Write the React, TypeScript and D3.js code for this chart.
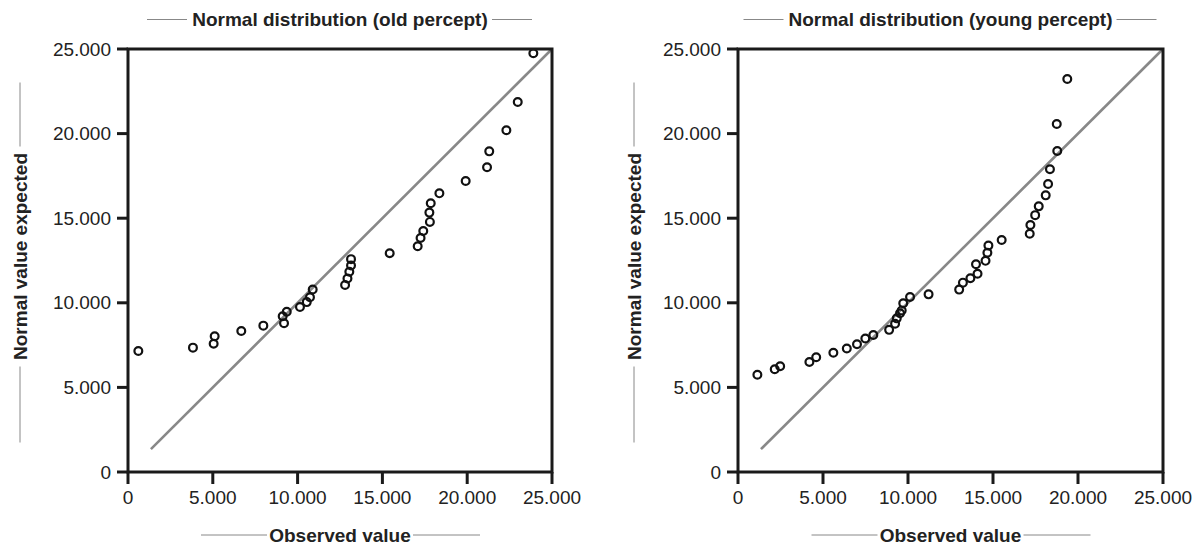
import React from 'react';
import * as d3 from 'd3';

// observed vs expected normal values (old percept)
const oldObserved = [
  610, 3830, 5050, 5110, 6680, 7980, 9120, 9200, 9360, 10140, 10540, 10730, 10890,
  12800, 12940, 13050, 13150, 13150, 15430, 17080, 17250, 17410, 17800, 17770, 17850,
  18360, 19910, 21170, 21300, 22310, 22980, 23900,
];
const oldExpected = [
  7150, 7350, 7580, 8020, 8330, 8650, 9200, 8790, 9470, 9750, 10040, 10330, 10790,
  11050, 11440, 11830, 12200, 12580, 12930, 13340, 13830, 14240, 14780, 15330, 15880,
  16470, 17200, 18010, 18950, 20200, 21870, 24750,
];

// observed vs expected normal values (young percept)
const youngObserved = [
  1140, 2160, 2480, 4200, 4600, 5610, 6400, 7000, 7490, 7960, 8890, 9240, 9340, 9530,
  9630, 9720, 10120, 11210, 13010, 13230, 13670, 14090, 14000, 14560, 14670, 14730,
  15510, 17160, 17200, 17480, 17690, 18100, 18240, 18350, 18780, 18750, 19370,
];
const youngExpected = [
  5750, 6070, 6250, 6500, 6780, 7050, 7300, 7550, 7890, 8100, 8400, 8760, 9080, 9380,
  9550, 9970, 10340, 10500, 10780, 11190, 11450, 11720, 12280, 12480, 12960, 13380,
  13710, 14080, 14600, 15180, 15700, 16350, 17020, 17890, 18970, 20570, 23230,
];

const axisTicks = [0, 5000, 10000, 15000, 20000, 25000];
const lineStart = 1350;
const axisMax = 25000;

const titles = ['Normal distribution (old percept)', 'Normal distribution (young percept)'];
const xTitle = 'Observed value';
const yTitle = 'Normal value expected';

const locale = d3.formatLocale({ decimal: ',', thousands: '.', grouping: [3], currency: ['', ''] });
const fmt = (v: number) => (v === 0 ? '0' : locale.format(',')(v));

const FONT = '"Liberation Sans", Arial, Helvetica, sans-serif';

type PanelProps = {
  left: number;
  right: number;
  top: number;
  bottom: number;
  yTitleX: number;
  titleHalf: number;
  title: string;
  observed: number[];
  expected: number[];
};

const Panel = ({ left, right, top, bottom, yTitleX, titleHalf, title, observed, expected }: PanelProps) => {
  const x = d3.scaleLinear().domain([0, axisMax]).range([left, right]);
  const y = d3.scaleLinear().domain([0, axisMax]).range([bottom, top]);
  const cx = (left + right) / 2;
  const cy = (top + bottom) / 2;
  const points = observed.map((o, i) => ({ o, e: expected[i] }));

  return (
    <g>
      {/* title with side rules */}
      <line x1={cx - titleHalf - 44} x2={cx - titleHalf - 4} y1={19.5} y2={19.5} stroke="#888" strokeWidth={1} />
      <line x1={cx + titleHalf + 3} x2={cx + titleHalf + 43} y1={19.5} y2={19.5} stroke="#888" strokeWidth={1} />
      <text x={cx} y={26} textAnchor="middle" fontSize={19} fontWeight="bold" fill="#222">
        {title}
      </text>

      {/* reference line */}
      <line
        x1={x(lineStart)}
        y1={y(lineStart)}
        x2={x(axisMax)}
        y2={y(axisMax)}
        stroke="#888"
        strokeWidth={2.6}
      />

      {/* points */}
      {points.map((d, i) => (
        <circle key={i} cx={x(d.o)} cy={y(d.e)} r={3.9} fill="none" stroke="#111" strokeWidth={2.2} />
      ))}

      {/* frame */}
      <rect x={left} y={top} width={right - left} height={bottom - top} fill="none" stroke="#1a1a1a" strokeWidth={3} />

      {/* y ticks */}
      {axisTicks.map((t) => (
        <g key={'y' + t}>
          <line x1={left - 11} x2={left} y1={y(t)} y2={y(t)} stroke="#1a1a1a" strokeWidth={3} />
          <text x={left - 17} y={y(t)} dy="0.35em" textAnchor="end" fontSize={19} fill="#222">
            {fmt(t)}
          </text>
        </g>
      ))}

      {/* x ticks */}
      {axisTicks.map((t) => (
        <g key={'x' + t}>
          <line x1={x(t)} x2={x(t)} y1={bottom} y2={bottom + 12} stroke="#1a1a1a" strokeWidth={3} />
          <text x={x(t)} y={504} textAnchor="middle" fontSize={19} fill="#222">
            {fmt(t)}
          </text>
        </g>
      ))}

      {/* x title */}
      <line x1={cx - 139} x2={cx - 73} y1={535} y2={535} stroke="#888" strokeWidth={1} />
      <line x1={cx + 73} x2={cx + 140} y1={535} y2={535} stroke="#888" strokeWidth={1} />
      <text x={cx} y={541.5} textAnchor="middle" fontSize={19} fontWeight="bold" fill="#222">
        {xTitle}
      </text>

      {/* y title */}
      <line x1={yTitleX} x2={yTitleX} y1={cy - 178} y2={cy - 114} stroke="#888" strokeWidth={1} />
      <line x1={yTitleX} x2={yTitleX} y1={cy + 106} y2={cy + 182} stroke="#888" strokeWidth={1} />
      <text
        transform={`translate(${yTitleX + 6.5},${cy - 4}) rotate(-90)`}
        textAnchor="middle"
        fontSize={19}
        fontWeight="bold"
        fill="#222"
      >
        {yTitle}
      </text>
    </g>
  );
};

const App = () => {
  return (
    <svg
      width={1194}
      height={544}
      style={{ position: 'absolute', left: 0, top: 0, display: 'block', background: '#fff' }}
      fontFamily={FONT}
    >
      <Panel
        left={128}
        right={552}
        top={49}
        bottom={472}
        yTitleX={20}
        titleHalf={149}
        title={titles[0]}
        observed={oldObserved}
        expected={oldExpected}
      />
      <Panel
        left={738}
        right={1163}
        top={49}
        bottom={472}
        yTitleX={634}
        titleHalf={163}
        title={titles[1]}
        observed={youngObserved}
        expected={youngExpected}
      />
    </svg>
  );
};

export default App;
